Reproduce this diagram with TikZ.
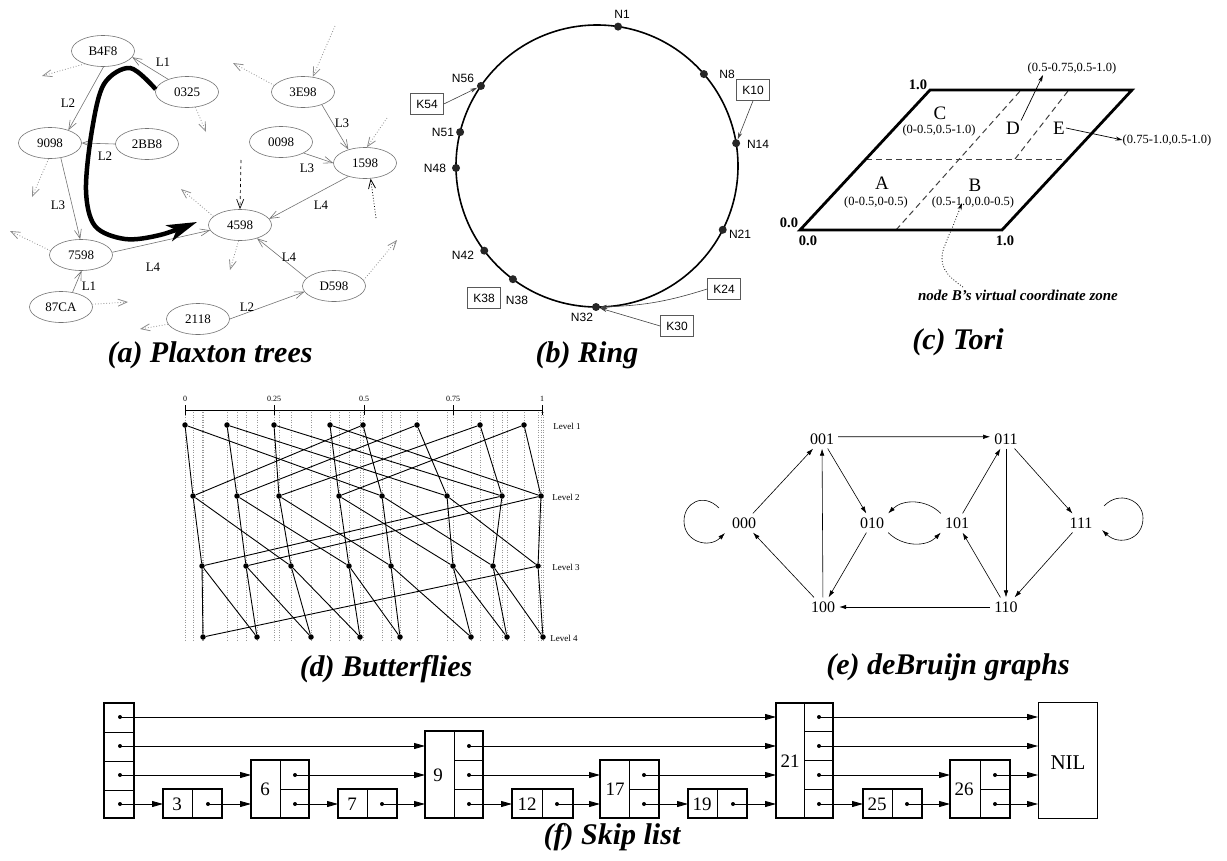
\documentclass[tikz,border=0pt]{standalone}
\usepackage{fontspec}
\setmainfont{Liberation Serif}
\setsansfont{Liberation Sans}
\usetikzlibrary{shapes.geometric,arrows.meta,calc}
\begin{document}
\begin{tikzpicture}[x=1pt,y=-1pt,
  fsz/.style={font=\fontsize{#1}{#1}\selectfont},
  captxt/.style={font=\fontsize{30}{30}\selectfont\bfseries\itshape,inner sep=0pt},
  pnode/.style={ellipse,draw=black!55,line width=0.6pt,minimum width=63pt,minimum height=31pt,inner sep=0pt,fsz=13},
  pedge/.style={draw=black!55,line width=0.6pt,-{Straight Barb[length=9pt,width=7pt]}},
  pdot/.style={draw=black!45,line width=0.8pt,dotted,-{Straight Barb[length=9pt,width=7pt]}},
  plab/.style={fsz=13,inner sep=0pt},
  rdot/.style={circle,fill=black!85,minimum size=8pt,inner sep=0pt},
  rlab/.style={font=\sffamily\fontsize{12}{12}\selectfont,inner sep=0pt},
  kbox/.style={draw=black!65,line width=0.6pt,font=\sffamily\fontsize{12}{12}\selectfont,minimum width=33pt,minimum height=21pt,inner sep=0pt},
  rarr/.style={draw=black!75,line width=0.6pt,-{Stealth[length=7pt,width=4pt]}},
  tl/.style={fsz=12.5,inner sep=0pt},
  tlet/.style={fsz=19,inner sep=1pt},
  tnum/.style={font=\fontsize{14.5}{14.5}\selectfont\bfseries,inner sep=0pt},
  tarr/.style={draw=black,line width=0.7pt,-{Stealth[length=7pt,width=4pt]}},
  bdot/.style={circle,fill=black,minimum size=5.5pt,inner sep=0pt},
  bline/.style={draw=black,line width=0.9pt},
  bgrid/.style={draw=black!40,line width=0.5pt,dotted},
  dbn/.style={fsz=16,inner sep=4pt},
  darr/.style={draw=black,line width=0.6pt,-{Latex[length=7pt,width=4.5pt]}},
  sbox/.style={draw=black,line width=1.6pt,inner sep=0pt,outer sep=0pt},
  sdiv/.style={draw=black,line width=0.6pt},
  sdot/.style={circle,fill=black,minimum size=4pt,inner sep=0pt},
  snum/.style={fsz=19,inner sep=0pt},
  sarr/.style={draw=black,line width=0.8pt,-{Triangle[length=11pt,width=6pt]}}
]
\useasboundingbox (0,0) rectangle (1227,860);

% ================= (a) Plaxton trees =================
\node[pnode] (pB4F8) at (103,51) {B4F8};
\node[pnode] (p0325) at (187,92) {0325};
\node[pnode] (p9098) at (50,143) {9098};
\node[pnode] (p2BB8) at (147,144) {2BB8};
\node[pnode] (p3E98) at (303,92) {3E98};
\node[pnode] (p0098) at (281,142) {0098};
\node[pnode] (p1598) at (365,163) {1598};
\node[pnode] (p4598) at (240,225) {4598};
\node[pnode] (p7598) at (81,255) {7598};
\node[pnode] (p87CA) at (61,307) {87CA};
\node[pnode] (p2118) at (198,319) {2118};
\node[pnode] (pD598) at (334,286) {D598};

\draw[pedge] (p0325.146) -- (pB4F8.-12);
\draw[pedge] (pB4F8.-88) -- (p9098.35);
\draw[pedge] (p2BB8.west) -- (p9098.east);
\draw[pedge] (p9098.-54) -- (p7598.93);
\draw[pedge] (p87CA.52) -- (p7598.-88);
\draw[pedge] (p7598.5) -- (p4598.190);
\draw[pedge] (p3E98.-34) -- (p1598.141);
\draw[pedge] (p0098.-26) -- (p1598.180);
\draw[pedge] (p1598.219) -- (p4598.12);
\draw[pedge] (pD598.164) -- (p4598.-38);
\draw[pedge] (p2118.0) -- (pD598.191);

\node[plab] (la1) at (163,62) {L1};
\node[plab] (la2) at (68,103) {L2};
\node[plab] (la3) at (105,156) {L2};
\node[plab] (la4) at (58,205) {L3};
\node[plab] (la5) at (89,286) {L1};
\node[plab] (la6) at (153,267) {L4};
\node[plab] (la7) at (342,123) {L3};
\node[plab] (la8) at (307,168) {L3};
\node[plab] (la9) at (321,205) {L4};
\node[plab] (la10) at (289,257) {L4};
\node[plab] (la11) at (247,307) {L2};

\coordinate (qa) at (42,76);   \draw[pdot] (pB4F8.215) -- (qa);
\coordinate (qb) at (206,132); \draw[pdot] (p0325.-61) -- (qb);
\coordinate (qc) at (32,197);  \draw[pdot] (p9098.-95) -- (qc);
\coordinate (qd) at (10,231);  \draw[pdot] (p7598.172) -- (qd);
\coordinate (qe) at (128,302); \draw[pdot] (p87CA.5) -- (qe);
\coordinate (qf) at (140,329); \draw[pdot] (p2118.190) -- (qf);
\coordinate (qg) at (233,63);  \draw[pdot] (p3E98.167) -- (qg);
\coordinate (qh) at (335,26);  \draw[pdot] (qh) -- (p3E98.57);
\coordinate (qi) at (387,118); \draw[pdot] (qi) -- (p1598.83);
\coordinate (qj) at (181,189); \draw[pdot] (p4598.162) -- (qj);
\coordinate (qk) at (241,160); \draw[draw=black,line width=0.7pt,dashed,-{Straight Barb[length=9pt,width=7pt]}] (qk) -- (p4598.north);
\coordinate (ql) at (230,270); \draw[pdot] (p4598.-95) -- (ql);
\coordinate (qm) at (376,218); \draw[draw=black,line width=0.8pt,dotted,-{Straight Barb[length=9pt,width=7pt]}] (qm) -- (p1598.-70);
\coordinate (qn) at (397,240); \draw[pdot] (pD598.11) -- (qn);

\draw[line width=4.5pt,-{Stealth[length=30pt,width=17pt,inset=8pt]}]
  plot[smooth,tension=0.55] coordinates {(p0325.175) (130,68) (104,84) (92,130) (86,190) (95,226) (125,239) (160,235) (197,222)};

\node[captxt] (capa) at (210,355) {(a) Plaxton trees};

% ================= (b) Ring =================
\coordinate (rc) at (597,166);
\draw[line width=1.6pt] (rc) circle[radius=141pt];
\foreach \nm/\ang in {N1/81.4,N8/40.7,N14/9.3,N21/-26.9,N32/-90.4,N38/-126.6,N42/-143.1,N48/-179.2,N51/166.1,N56/145.4}
  \node[rdot] (r\nm) at ($(rc)+(\ang:141pt)$) {};
\node[rlab] (lN1) at (622,14) {N1};
\node[rlab] (lN8) at (727,74) {N8};
\node[rlab] (lN14) at (758,144) {N14};
\node[rlab] (lN21) at (740,234) {N21};
\node[rlab] (lN32) at (582,317) {N32};
\node[rlab] (lN38) at (517,300) {N38};
\node[rlab] (lN42) at (463,255) {N42};
\node[rlab] (lN48) at (435,168) {N48};
\node[rlab] (lN51) at (443,132) {N51};
\node[rlab] (lN56) at (463,78) {N56};
\node[kbox] (K54) at (427,104) {K54};
\node[kbox] (K38) at (484,298) {K38};
\node[kbox] (K10) at (753,90) {K10};
\node[kbox] (K24) at (724,289) {K24};
\node[kbox] (K30) at (677,326) {K30};
\draw[rarr] (K54.east) -- (rN56);
\draw[rarr] (K10.south) -- (rN14);
\draw[rarr] (K24.west) to[bend left=8] (rN32);
\draw[rarr] (K30.west) -- (rN32);
\node[captxt] (capb) at (587,355) {(b) Ring};

% ================= (c) Tori =================
\coordinate (t00) at (800,230);
\coordinate (t10) at (1002,230);
\coordinate (t11) at (1132,90);
\coordinate (t01) at (930,90);
\draw[black!75,line width=1pt,dash pattern=on 6pt off 4pt] (866,159) -- (1067,159);
\draw[black!75,line width=1pt,dash pattern=on 6pt off 4pt] (896,230) -- (1021,90);
\draw[black!75,line width=1pt,dash pattern=on 6pt off 4pt] (1015,159) -- (1068,91);
\draw[line width=2.8pt,line join=miter] (t00) -- (t10) -- (t11) -- (t01) -- cycle;
\node[tnum] (tn1) at (918,85) {1.0};
\node[tnum] (tn2) at (789,223) {0.0};
\node[tnum] (tn3) at (808,241) {0.0};
\node[tnum] (tn4) at (1005,241) {1.0};
\node[tlet] (tC) at (940,113) {C};
\node[tl] (tCl) at (939,130) {(0-0.5,0.5-1.0)};
\node[tlet] (tD) at (1013,128) {D};
\node[tlet] (tE) at (1059,128) {E};
\node[tlet] (tA) at (882,183) {A};
\node[tl] (tAl) at (876,202) {(0-0.5,0-0.5)};
\node[tlet] (tBB) at (975,185) {B};
\node[tl] (tBl) at (973,202) {(0.5-1.0,0.0-0.5)};
\node[tl] (tDl) at (1072,68) {(0.5-0.75,0.5-1.0)};
\node[tl] (tEl) at (1167,140) {(0.75-1.0,0.5-1.0)};
\coordinate (dtip) at (1043,75);
\draw[tarr] (tD.north east) -- (dtip);
\draw[tarr] (tE.east) -- (tEl.west);
\node[font=\fontsize{15}{15}\selectfont\bfseries\itshape,inner sep=0pt] (tBn) at (1018,295) {node B's virtual coordinate zone};
\coordinate (bs) at (963,287);
\coordinate (bt) at (962,203);
\draw[black,line width=0.8pt,dotted,-{Stealth[length=7pt,width=4pt]}] plot[smooth,tension=0.7] coordinates {(bs) (947,273) (942,257) (947,240) (953,226) (bt)};
\node[captxt] (capc) at (958,342) {(c) Tori};

% ================= (d) Butterflies =================
\foreach \x in {185,227,274,330,363,417,480,524,193,237,279,339,382,447,502,541,202,246,291,349,391,453,493,538,203,257,311,360,400,471,507,543}
  \draw[bgrid] (\x,412) -- (\x,641);
\draw[line width=0.7pt] (185,410) -- (542,410);
\foreach \x/\t in {185/0,274/0.25,364/0.5,453/0.75,542/1} {
  \draw[line width=0.7pt] (\x,405) -- (\x,415);
  \node[fsz=8,inner sep=0pt] (tick\x) at (\x,399) {\t};
}
\foreach \x [count=\i from 0] in {185,227,274,330,363,417,480,524} \node[bdot] (bA\i) at (\x,425) {};
\foreach \x [count=\i from 0] in {193,237,279,339,382,447,502,541} \node[bdot] (bB\i) at (\x,496) {};
\foreach \x [count=\i from 0] in {202,246,291,349,391,453,493,538} \node[bdot] (bC\i) at (\x,566) {};
\foreach \x [count=\i from 0] in {203,257,311,360,400,471,507,543} \node[bdot] (bD\i) at (\x,637) {};
\foreach \i in {0,...,7} {
  \pgfmathtruncatemacro{\ja}{mod(\i+4,8)}
  \pgfmathtruncatemacro{\jb}{mod(\i+2,8)}
  \pgfmathtruncatemacro{\jc}{mod(\i+1,8)}
  \draw[bline] (bA\i) -- (bB\i);
  \draw[bline] (bB\i) -- (bC\i);
  \draw[bline] (bC\i) -- (bD\i);
  \draw[bline] (bA\i) -- (bB\ja);
  \draw[bline] (bB\i) -- (bC\jb);
  \draw[bline] (bC\i) -- (bD\jc);
}
\node[fsz=9,inner sep=0pt] (lev1) at (567,426) {Level 1};
\node[fsz=9,inner sep=0pt] (lev2) at (566,497) {Level 2};
\node[fsz=9,inner sep=0pt] (lev3) at (566,567) {Level 3};
\node[fsz=9,inner sep=0pt] (lev4) at (564,638) {Level 4};
\node[captxt] (capd) at (386,669) {(d) Butterflies};

% ================= (e) deBruijn graphs =================
\node[dbn] (d001) at (822,439) {001};
\node[dbn] (d011) at (1006,439) {011};
\node[dbn] (d000) at (744,523) {000};
\node[dbn] (d010) at (872,523) {010};
\node[dbn] (d101) at (957,523) {101};
\node[dbn] (d111) at (1081,523) {111};
\node[dbn] (d100) at (823,607) {100};
\node[dbn] (d110) at (1006,607) {110};
\draw[darr] (d000) -- (d001);
\draw[darr] (d001.8) -- (d011.172);
\draw[darr] (d001) -- (d010);
\draw[darr] (d011) -- (d111);
\draw[darr] (d011) -- (d110);
\draw[darr] (d101) -- (d011);
\draw[darr] (d101.north west) to[bend right=45] (d010.north east);
\draw[darr] (d010.south east) to[bend right=45] (d101.south west);
\draw[darr] (d010) -- (d100);
\draw[darr] (d100) -- (d000);
\draw[darr] (d100) -- (d001);
\draw[darr] (d110) -- (d100);
\draw[darr] (d110) -- (d101);
\draw[darr] (d111) -- (d110);
\draw[darr] (719,508) .. controls (703,492) and (684,503) .. (684,521) .. controls (684,542) and (709,549) .. (725,533);
\draw[darr] (1104,506) .. controls (1119,490) and (1143,500) .. (1143,518) .. controls (1143,540) and (1119,546) .. (1102,530);
\node[captxt] (cape) at (948,667) {(e) deBruijn graphs};

% ================= (f) Skip list =================
\node[sbox,minimum width=30pt,minimum height=115pt] (sh) at (119,760.5) {};
\draw[sdiv] (104,732) -- (134,732);
\draw[sdiv] (104,761) -- (134,761);
\draw[sdiv] (104,790) -- (134,790);
\node[sdot] (h1) at (120,717) {};
\node[sdot] (h2) at (120,746) {};
\node[sdot] (h3) at (120,775) {};
\node[sdot] (h4) at (120,804) {};

\node[sbox,minimum width=59pt,minimum height=29pt] (s3) at (192.5,803.5) {};
\draw[sdiv] (s3.north) -- (s3.south);
\node[snum] (n3) at (177,804) {3};
\node[sdot] (d3) at (208,804) {};

\node[sbox,minimum width=58pt,minimum height=58pt] (s6) at (280,789) {};
\draw[sdiv] (s6.north) -- (s6.south);
\draw[sdiv] (s6.center) -- (s6.east);
\node[snum] (n6) at (265,789) {6};
\node[sdot] (d6a) at (295,775) {};
\node[sdot] (d6b) at (295,804) {};

\node[sbox,minimum width=59pt,minimum height=29pt] (s7) at (367.5,803.5) {};
\draw[sdiv] (s7.north) -- (s7.south);
\node[snum] (n7) at (352,804) {7};
\node[sdot] (d7) at (382,804) {};

\node[sbox,minimum width=58pt,minimum height=87pt] (s9) at (454,774.5) {};
\draw[sdiv] (s9.north) -- (s9.south);
\draw[sdiv] (454,760) -- (483,760);
\draw[sdiv] (454,789) -- (483,789);
\node[snum] (n9) at (438,775) {9};
\node[sdot] (d9a) at (469,746) {};
\node[sdot] (d9b) at (469,775) {};
\node[sdot] (d9c) at (469,804) {};

\node[sbox,minimum width=61pt,minimum height=29pt] (s12) at (542.5,803.5) {};
\draw[sdiv] (s12.north) -- (s12.south);
\node[snum] (n12) at (527,804) {12};
\node[sdot] (d12) at (557,804) {};

\node[sbox,minimum width=59pt,minimum height=58pt] (s17) at (629.5,789) {};
\draw[sdiv] (s17.north) -- (s17.south);
\draw[sdiv] (s17.center) -- (s17.east);
\node[snum] (n17) at (615,789) {17};
\node[sdot] (d17a) at (644,775) {};
\node[sdot] (d17b) at (644,804) {};

\node[sbox,minimum width=59pt,minimum height=29pt] (s19) at (717.5,803.5) {};
\draw[sdiv] (s19.north) -- (s19.south);
\node[snum] (n19) at (702,804) {19};
\node[sdot] (d19) at (733,804) {};

\node[sbox,minimum width=57pt,minimum height=115pt] (s21) at (804.5,760.5) {};
\draw[sdiv] (s21.north) -- (s21.south);
\draw[sdiv] (804.5,731) -- (833,731);
\draw[sdiv] (804.5,760) -- (833,760);
\draw[sdiv] (804.5,789) -- (833,789);
\node[snum] (n21) at (790,761) {21};
\node[sdot] (d21a) at (819,717) {};
\node[sdot] (d21b) at (819,746) {};
\node[sdot] (d21c) at (819,775) {};
\node[sdot] (d21d) at (819,804) {};

\node[sbox,minimum width=59pt,minimum height=29pt] (s25) at (892.5,803.5) {};
\draw[sdiv] (s25.north) -- (s25.south);
\node[snum] (n25) at (877,804) {25};
\node[sdot] (d25) at (907,804) {};

\node[sbox,minimum width=60pt,minimum height=58pt] (s26) at (980,789) {};
\draw[sdiv] (s26.north) -- (s26.south);
\draw[sdiv] (s26.center) -- (s26.east);
\node[snum] (n26) at (964,789) {26};
\node[sdot] (d26a) at (995,775) {};
\node[sdot] (d26b) at (995,804) {};

\node[sbox,line width=1pt,minimum width=59pt,minimum height=116pt] (sNIL) at (1067.5,760) {};
\node[fsz=21,inner sep=0pt] (tNIL) at (1068,763) {NIL};

\draw[sarr] (h1.center) -- (s21.west |- h1);
\draw[sarr] (d21a.center) -- (sNIL.west |- d21a);
\draw[sarr] (h2.center) -- (s9.west |- h2);
\draw[sarr] (d9a.center) -- (s21.west |- d9a);
\draw[sarr] (d21b.center) -- (sNIL.west |- d21b);
\draw[sarr] (h3.center) -- (s6.west |- h3);
\draw[sarr] (d6a.center) -- (s9.west |- d6a);
\draw[sarr] (d9b.center) -- (s17.west |- d9b);
\draw[sarr] (d17a.center) -- (s21.west |- d17a);
\draw[sarr] (d21c.center) -- (s26.west |- d21c);
\draw[sarr] (d26a.center) -- (sNIL.west |- d26a);
\draw[sarr] (h4.center) -- (s3.west |- h4);
\draw[sarr] (d3.center) -- (s6.west |- d3);
\draw[sarr] (d6b.center) -- (s7.west |- d6b);
\draw[sarr] (d7.center) -- (s9.west |- d7);
\draw[sarr] (d9c.center) -- (s12.west |- d9c);
\draw[sarr] (d12.center) -- (s17.west |- d12);
\draw[sarr] (d17b.center) -- (s19.west |- d17b);
\draw[sarr] (d19.center) -- (s21.west |- d19);
\draw[sarr] (d21d.center) -- (s25.west |- d21d);
\draw[sarr] (d25.center) -- (s26.west |- d25);
\draw[sarr] (d26b.center) -- (sNIL.west |- d26b);
\node[captxt] (capf) at (612,837) {(f) Skip list};
\end{tikzpicture}
\end{document}
